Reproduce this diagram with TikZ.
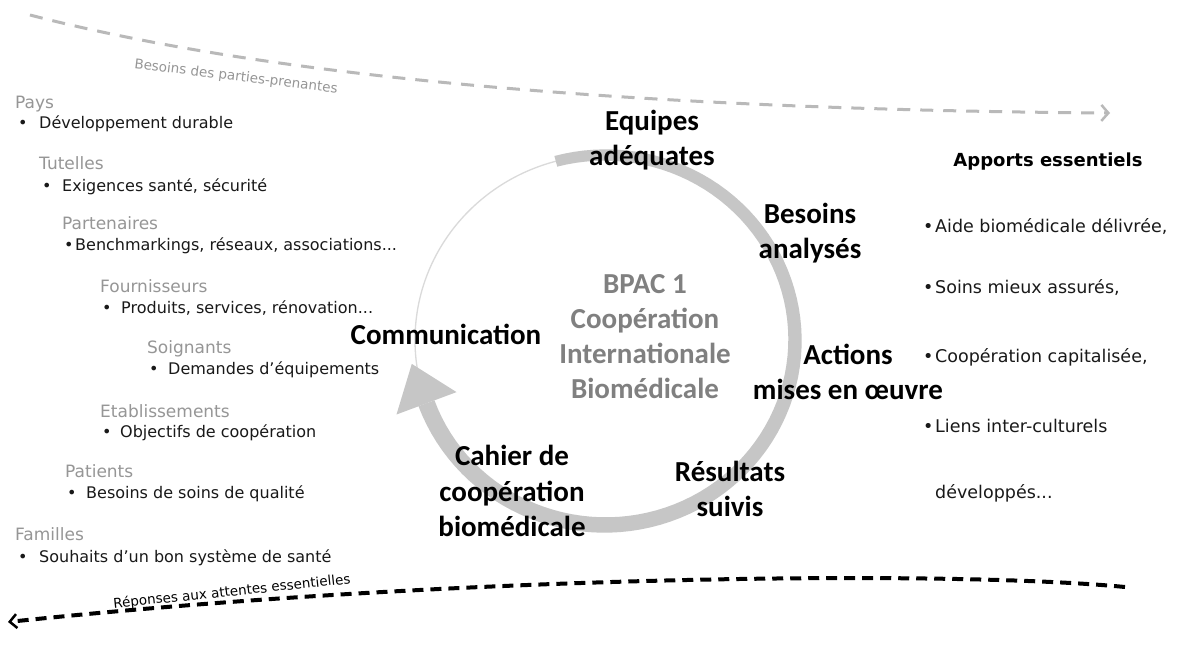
\documentclass[tikz,border=0pt]{standalone}
\usepackage{fontspec}
\setmainfont{DejaVu Sans}
\newfontfamily\calib{Carlito}
\usetikzlibrary{arrows.meta}
\definecolor{hdrgray}{RGB}{150,150,150}
\definecolor{arcgray}{RGB}{198,198,198}
\definecolor{ringgray}{RGB}{218,218,218}
\definecolor{ctrgray}{RGB}{128,128,128}
\definecolor{dashgray}{RGB}{185,185,185}
\definecolor{txt}{RGB}{25,25,25}
\begin{document}
\begin{tikzpicture}[x=1pt,y=-1pt,
  hdr/.style={anchor=base west, inner sep=0pt, text=hdrgray, font=\fontsize{17}{19}\selectfont},
  item/.style={anchor=base west, inner sep=0pt, text=txt, font=\fontsize{16}{18}\selectfont},
  ritem/.style={anchor=base west, inner sep=0pt, text=txt, font=\fontsize{17.5}{19}\selectfont},
  big/.style={font=\calib\bfseries\fontsize{29}{35.5}\selectfont, align=center, inner sep=0pt, text=black},
  ctr/.style={font=\calib\bfseries\fontsize{29}{35}\selectfont, align=center, inner sep=0pt, text=ctrgray},
  lbl/.style={inner sep=0pt, font=\fontsize{13.5}{15}\selectfont}]
\useasboundingbox[fill=white] (0,0) rectangle (1178,650);

% ring and cycle arc
\draw[ringgray, line width=1.3pt] (605,340) ellipse [x radius=190, y radius=185];
\fill[arcgray] plot[domain=255:520, samples=90, variable=\t]
    ({605+(190+5.5+3*(\t-255)/265)*cos(\t)}, {340+(185+5.5+3*(\t-255)/265)*sin(\t)})
  -- plot[domain=520:255, samples=90, variable=\t]
    ({605+(190-5.5-3*(\t-255)/265)*cos(\t)}, {340+(185-5.5-3*(\t-255)/265)*sin(\t)}) -- cycle;
\coordinate (tipA) at (411.8,363.9);
\coordinate (baseL) at (396.5,414.5);
\coordinate (baseR) at (456.5,392.1);
\fill[arcgray] (tipA) -- (baseR) -- (baseL) -- cycle;

% dashed lines
\coordinate (ts) at (30,15);
\coordinate (te) at (1110,113);
\draw[dashgray, line width=3pt, dash pattern=on 13pt off 10pt, -{Straight Barb[length=7pt,width=16pt,line width=2.5pt]}]
  (ts) .. controls (300,85) and (700,110) .. (te);
\node[lbl, text=hdrgray, rotate=-7] (tl) at (236,77) {Besoins des parties-prenantes};

\coordinate (bs) at (1125,587);
\coordinate (be) at (8,622);
\draw[black, line width=4pt, dash pattern=on 11pt off 7pt, -{Straight Barb[length=7pt,width=14pt,line width=2.5pt]}]
  (bs) .. controls (950,570) and (450,575) .. (be);
\node[lbl, text=black, rotate=6] (bl) at (232,592) {Réponses aux attentes essentielles};

% left list
\node[hdr] (h1) at (15,109) {Pays};
\node[item] (i1) at (18,129) {\makebox[21pt][l]{•}Développement durable};
\node[hdr] (h2) at (39,170) {Tutelles};
\node[item] (i2) at (42,191) {\makebox[20pt][l]{•}Exigences santé, sécurité};
\node[hdr] (h3) at (62,229) {Partenaires};
\node[item] (i3) at (64,250) {\makebox[11pt][l]{•}Benchmarkings, réseaux, associations...};
\node[hdr] (h4) at (100,292) {Fournisseurs};
\node[item] (i4) at (102,313) {\makebox[19pt][l]{•}Produits, services, rénovation...};
\node[hdr] (h5) at (147,353) {Soignants};
\node[item] (i5) at (149,374) {\makebox[19pt][l]{•}Demandes d'équipements};
\node[hdr] (h6) at (100,417) {Etablissements};
\node[item] (i6) at (102,437) {\makebox[18pt][l]{•}Objectifs de coopération};
\node[hdr] (h7) at (65,477) {Patients};
\node[item] (i7) at (67,498) {\makebox[19pt][l]{•}Besoins de soins de qualité};
\node[hdr] (h8) at (15,540) {Familles};
\node[item] (i8) at (18,562) {\makebox[21pt][l]{•}Souhaits d'un bon système de santé};

% cycle labels
\node[big] (eq) at (652,140) {Equipes\\adéquates};
\node[big] (ba) at (810,233) {Besoins\\analysés};
\node[big] (co) at (446,334) {Communication};
\node[ctr] (bp) at (645,337) {BPAC 1\\Coopération\\Internationale\\Biomédicale};
\node[big] (am) at (848,372) {Actions\\mises en œuvre};
\node[big] (rs) at (730,489) {Résultats\\suivis};
\node[big] (ca) at (512,491) {Cahier de\\coopération\\biomédicale};

% right column
\node[inner sep=0pt, font=\bfseries\fontsize{18}{20}\selectfont] (ap) at (1048,162) {Apports essentiels};
\node[ritem] (r1) at (923,232) {\makebox[12pt][l]{•}Aide biomédicale délivrée,};
\node[ritem] (r2) at (923,293) {\makebox[12pt][l]{•}Soins mieux assurés,};
\node[ritem] (r3) at (923,362) {\makebox[12pt][l]{•}Coopération capitalisée,};
\node[ritem] (r4) at (923,432) {\makebox[12pt][l]{•}Liens inter-culturels};
\node[ritem] (r5) at (935,498) {développés...};
\end{tikzpicture}
\end{document}
